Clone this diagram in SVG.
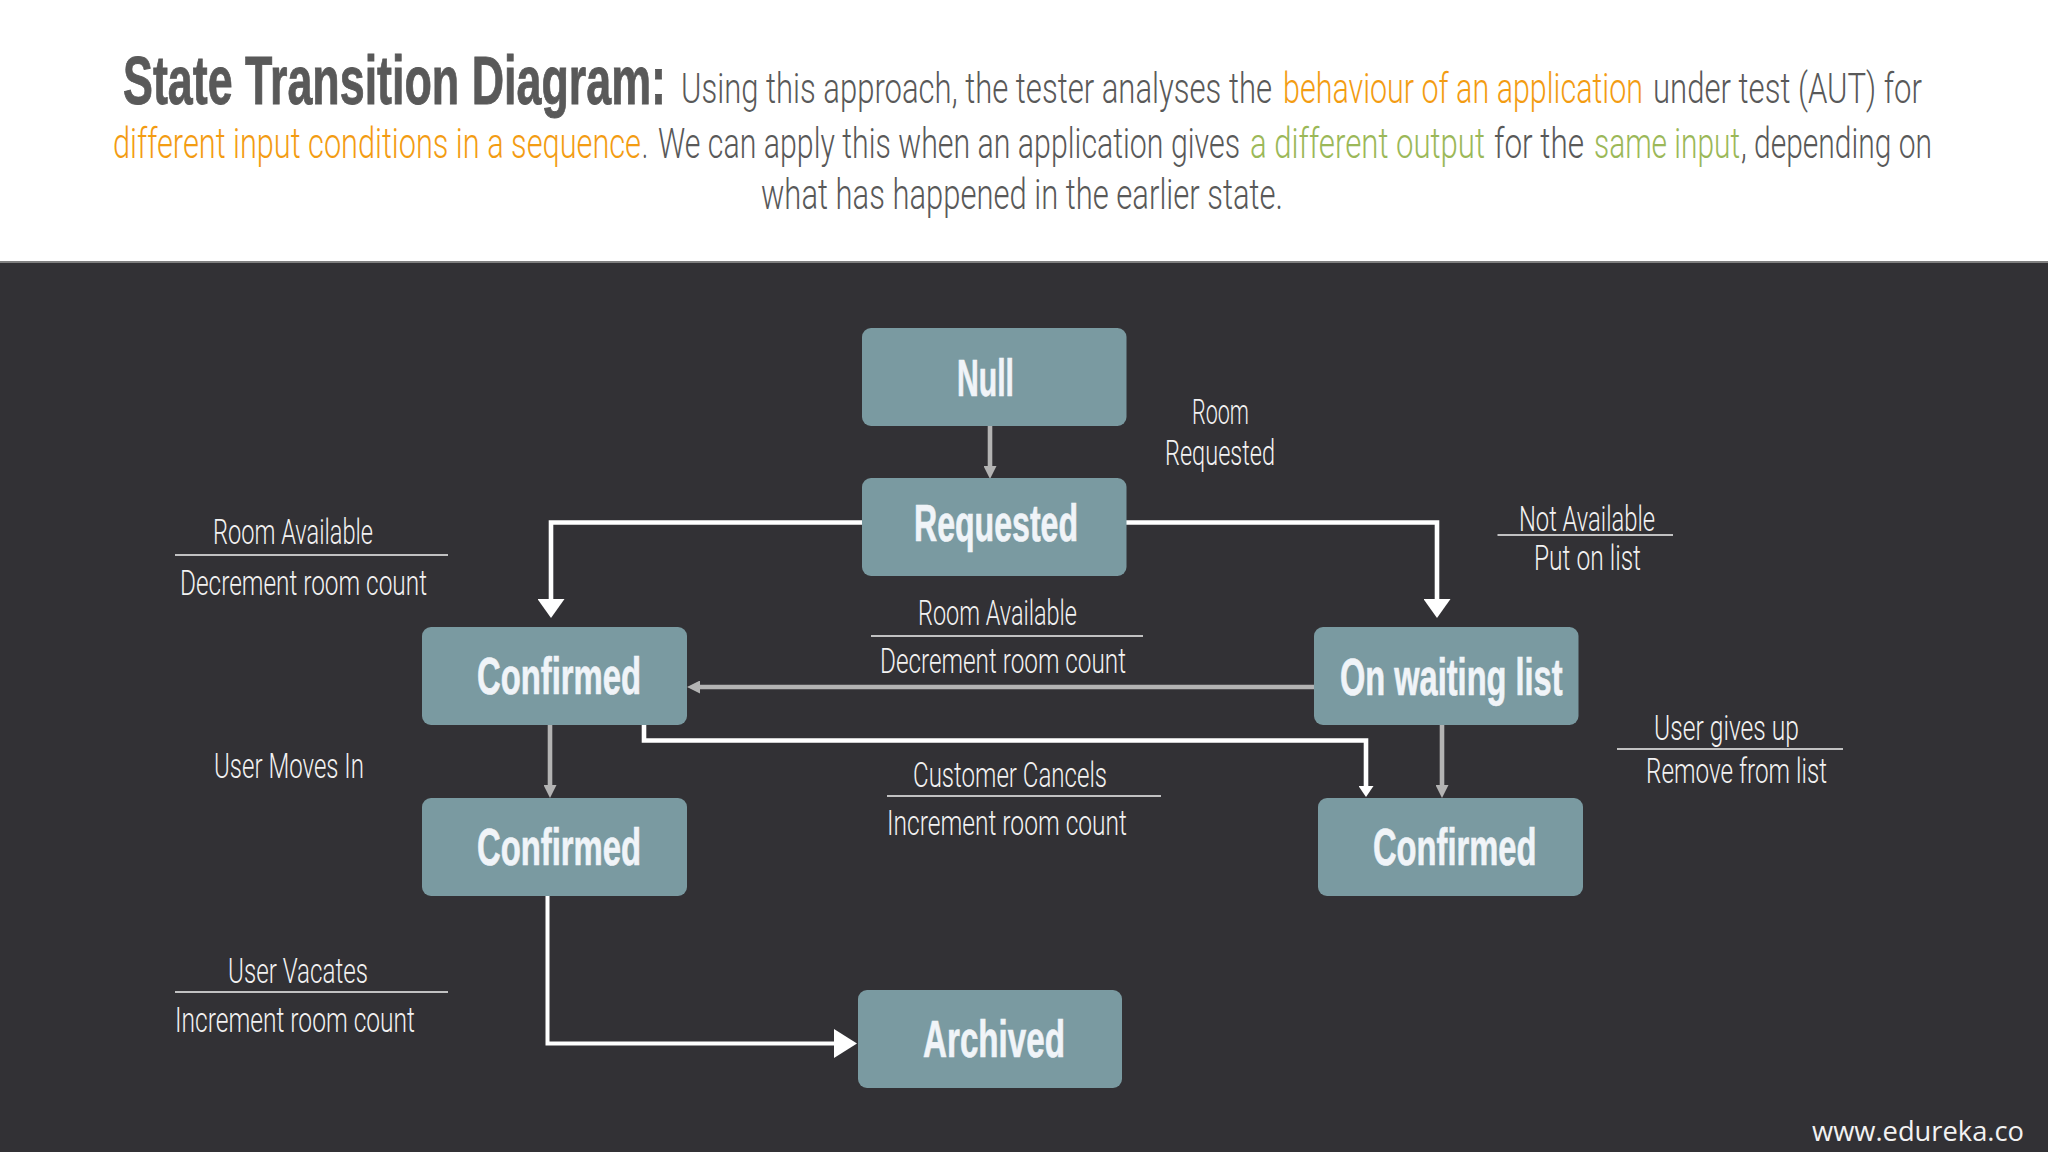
<svg xmlns="http://www.w3.org/2000/svg" width="2048" height="1152" viewBox="0 0 2048 1152">
<style>
text{font-family:"Roboto","Liberation Sans",Arial,sans-serif}
.t{font-family:"Liberation Sans",Arial,sans-serif;font-size:69px;font-weight:700;fill:#595959;stroke:#595959;stroke-width:.9}
.b{font-size:42px;font-weight:300;fill:#595959}
.o{fill:#F39C12}
.g{fill:#9BB858}
.n rect{fill:#7A9AA1}
.n text{font-family:"Liberation Sans",Arial,sans-serif;font-size:52px;font-weight:700;fill:#F0F4F8;stroke:#F0F4F8;stroke-width:.7}
.l text{font-size:35px;font-weight:300;fill:#F2F2F2}
.l line{stroke:#F2F2F2;stroke-width:1.6}
.w{fill:none;stroke:#FFF;stroke-width:4.6}
.y{fill:none;stroke:#B3B3B3;stroke-width:4.6}
</style>
<defs>
<marker id="wl" markerUnits="userSpaceOnUse" markerWidth="19" markerHeight="27" viewBox="0 0 19 27" refX="0" refY="13.5" orient="auto"><path d="M0 0L19 13.5L0 27z" fill="#FFF"/></marker>
<marker id="wa" markerUnits="userSpaceOnUse" markerWidth="23" markerHeight="29" viewBox="0 0 23 29" refX="0" refY="14.5" orient="auto"><path d="M0 0L23 14.5L0 29z" fill="#FFF"/></marker>
<marker id="ws" markerUnits="userSpaceOnUse" markerWidth="11" markerHeight="15" viewBox="0 0 11 15" refX="0" refY="7.5" orient="auto"><path d="M0 0L11 7.5L0 15z" fill="#FFF"/></marker>
<marker id="gy" markerUnits="userSpaceOnUse" markerWidth="13" markerHeight="13" viewBox="0 0 13 13" refX="0" refY="6.5" orient="auto"><path d="M0 0L13 6.5L0 13z" fill="#B3B3B3"/></marker>
</defs>
<rect width="2048" height="1152" fill="#FFF"/>
<rect y="262" width="2048" height="890" fill="#323135"/>
<rect y="261" width="2048" height="2" fill="#808080"/>
<g id="header">
<text class="t" x="123" y="104" textLength="543" lengthAdjust="spacingAndGlyphs">State Transition Diagram:</text>
<text y="103"><tspan class="b" x="681" textLength="591" lengthAdjust="spacingAndGlyphs">Using this approach, the tester analyses the</tspan> <tspan class="b o" x="1283" textLength="360" lengthAdjust="spacingAndGlyphs">behaviour of an application</tspan> <tspan class="b" x="1653" textLength="269" lengthAdjust="spacingAndGlyphs">under test (AUT) for</tspan></text>
<text y="158"><tspan class="b o" x="113" textLength="528" lengthAdjust="spacingAndGlyphs">different input conditions in a sequence</tspan><tspan class="b" x="642" textLength="6" lengthAdjust="spacingAndGlyphs">.</tspan> <tspan class="b" x="658" textLength="582" lengthAdjust="spacingAndGlyphs">We can apply this when an application gives</tspan> <tspan class="b g" x="1250" textLength="235" lengthAdjust="spacingAndGlyphs">a different output</tspan> <tspan class="b" x="1494" textLength="90" lengthAdjust="spacingAndGlyphs">for the</tspan> <tspan class="b g" x="1594" textLength="146" lengthAdjust="spacingAndGlyphs">same input</tspan><tspan class="b" x="1741" textLength="191" lengthAdjust="spacingAndGlyphs">, depending on</tspan></text>
<text y="209" class="b" x="761" textLength="522" lengthAdjust="spacingAndGlyphs">what has happened in the earlier state.</text>
</g>
<g id="connectors">
<path class="y" d="M990 426V466" marker-end="url(#gy)"/>
<path class="w" d="M862 522.500H551V599" marker-end="url(#wl)"/>
<path class="w" d="M1126 522.500H1437V599" marker-end="url(#wl)"/>
<path class="y" d="M1314 687H700" marker-end="url(#gy)"/>
<path class="y" d="M550 725V785" marker-end="url(#gy)"/>
<path class="w" d="M644 725V740.500H1366V786" marker-end="url(#ws)"/>
<path class="y" d="M1442 725V785" marker-end="url(#gy)"/>
<path class="w" style="stroke-width:4" d="M547.500 896V1043.500H834" marker-end="url(#wa)"/>
</g>
<g id="node-null" class="n"><rect x="862" y="328" width="264.500" height="98" rx="9"/><text x="957" y="396" textLength="57" lengthAdjust="spacingAndGlyphs">Null</text></g>
<g id="node-requested" class="n"><rect x="862" y="478" width="264.500" height="98" rx="9"/><text x="914" y="541" textLength="164" lengthAdjust="spacingAndGlyphs">Requested</text></g>
<g id="node-confirmed-1" class="n"><rect x="422" y="627" width="265" height="98" rx="9"/><text x="477" y="694" textLength="164" lengthAdjust="spacingAndGlyphs">Confirmed</text></g>
<g id="node-waiting" class="n"><rect x="1314" y="627" width="264.500" height="98" rx="9"/><text x="1340" y="695" textLength="222.500" lengthAdjust="spacingAndGlyphs">On waiting list</text></g>
<g id="node-confirmed-2" class="n"><rect x="422" y="798" width="265" height="98" rx="9"/><text x="477" y="865" textLength="164" lengthAdjust="spacingAndGlyphs">Confirmed</text></g>
<g id="node-confirmed-3" class="n"><rect x="1318" y="798" width="265" height="98" rx="9"/><text x="1373" y="865" textLength="163.500" lengthAdjust="spacingAndGlyphs">Confirmed</text></g>
<g id="node-archived" class="n"><rect x="858" y="990" width="264" height="98" rx="9"/><text x="923" y="1057" textLength="142" lengthAdjust="spacingAndGlyphs">Archived</text></g>
<g id="labels">
<g id="label-room-requested" class="l"><text x="1192" y="424" textLength="57" lengthAdjust="spacingAndGlyphs">Room</text><text x="1165" y="465" textLength="110" lengthAdjust="spacingAndGlyphs">Requested</text></g>
<g id="label-room-available-left" class="l"><text x="213" y="544" textLength="160" lengthAdjust="spacingAndGlyphs">Room Available</text><line x1="175" y1="555" x2="448" y2="555"/><text x="180" y="595" textLength="247" lengthAdjust="spacingAndGlyphs">Decrement room count</text></g>
<g id="label-user-moves-in" class="l"><text x="214" y="778" textLength="150" lengthAdjust="spacingAndGlyphs">User Moves In</text></g>
<g id="label-room-available-mid" class="l"><text x="918" y="625" textLength="159" lengthAdjust="spacingAndGlyphs">Room Available</text><line x1="871" y1="636" x2="1143" y2="636"/><text x="880" y="673" textLength="246" lengthAdjust="spacingAndGlyphs">Decrement room count</text></g>
<g id="label-customer-cancels" class="l"><text x="913" y="787" textLength="194" lengthAdjust="spacingAndGlyphs">Customer Cancels</text><line x1="887" y1="796" x2="1161" y2="796"/><text x="887" y="835" textLength="240" lengthAdjust="spacingAndGlyphs">Increment room count</text></g>
<g id="label-not-available" class="l"><text x="1519" y="531" textLength="136" lengthAdjust="spacingAndGlyphs">Not Available</text><line x1="1497.500" y1="535" x2="1673" y2="535"/><text x="1534" y="570" textLength="107" lengthAdjust="spacingAndGlyphs">Put on list</text></g>
<g id="label-user-gives-up" class="l"><text x="1654" y="740" textLength="145" lengthAdjust="spacingAndGlyphs">User gives up</text><line x1="1617" y1="749" x2="1843" y2="749"/><text x="1646" y="783" textLength="181" lengthAdjust="spacingAndGlyphs">Remove from list</text></g>
<g id="label-user-vacates" class="l"><text x="228" y="983" textLength="140" lengthAdjust="spacingAndGlyphs">User Vacates</text><line x1="175" y1="992" x2="448" y2="992"/><text x="175" y="1032" textLength="240" lengthAdjust="spacingAndGlyphs">Increment room count</text></g>
</g>
<text id="watermark" x="1812" y="1141" textLength="212" lengthAdjust="spacingAndGlyphs" style="font-family:'Open Sans',sans-serif;font-size:27px;fill:#F2F2F2">www.edureka.co</text>
</svg>
